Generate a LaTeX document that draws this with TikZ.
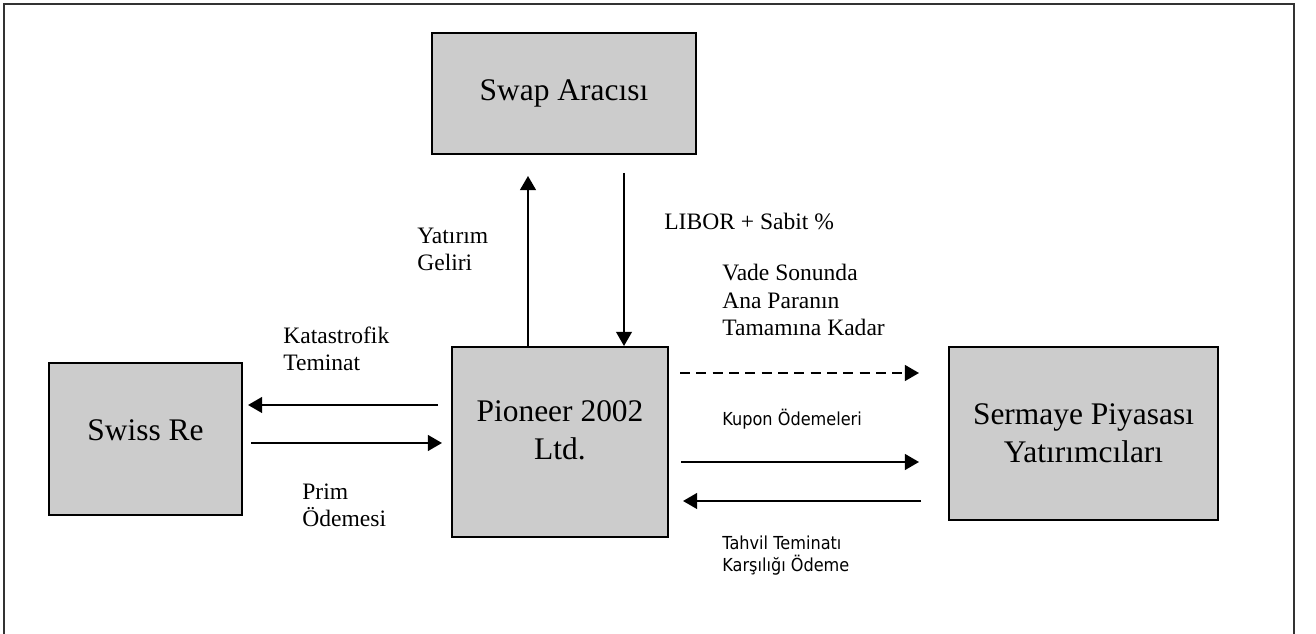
\documentclass[tikz,border=0pt]{standalone}
\usepackage{fontspec}
\setmainfont{Liberation Serif}
\newfontfamily\labelsans[FakeStretch=0.9]{DejaVu Sans}
\usepackage{tikz}
\usetikzlibrary{arrows.meta, positioning}

\begin{document}
\begin{tikzpicture}[x=0.02cm, y=-0.02cm]
	\tikzstyle{box} = [draw=black, line width=1.2pt, fill=black!20, rectangle, align=center, font=\fontsize{17.9}{21.5}\selectfont]
	\tikzstyle{lbl} = [anchor=west, inner sep=0pt, align=left, font=\fontsize{13.4}{15.4}\selectfont]
	\tikzstyle{slbl} = [anchor=west, inner sep=0pt, align=left, font=\labelsans\fontsize{10.2}{12.5}\selectfont]
	\tikzstyle{arrow} = [line width=1pt, -{Triangle[length=8pt, width=9pt]}]
	
	\useasboundingbox (0,0) rectangle (1316,634);
	\draw[line width=1pt, black!80] (4,634) -- (4,4) -- (1294,4) -- (1294,634);
	
	% boxes
	\node[box, minimum width=5.28cm, minimum height=2.42cm]	at (564, 93.5)		(swap)	{Swap Aracısı};
	\node[box, minimum width=4.32cm, minimum height=3.8cm]	at (560, 442)		(pio)	{Pioneer 2002\\Ltd.\rule[-0.48cm]{0pt}{0pt}};
	\node[box, minimum width=3.86cm, minimum height=3.04cm]	at (145.5, 439)		(swiss)	{Swiss Re\rule[-0.36cm]{0pt}{0pt}};
	\node[box, minimum width=5.38cm, minimum height=3.46cm]	at (1083.5, 433.5)	(inv)	{Sermaye Piyasası\\Yatırımcıları};
	
	% labels
	\node[lbl]	at (417, 249)	(gelir)	{Yatırım\\Geliri};
	\node[lbl]	at (664, 221)	(libor)	{LIBOR + Sabit \%};
	\node[lbl]	at (722, 300)	(vade)	{Vade Sonunda\\Ana Paranın\\Tamamına Kadar};
	\node[lbl]	at (283, 349)	(kat)	{Katastrofik\\Teminat};
	\node[lbl]	at (302, 505)	(prim)	{Prim\\Ödemesi};
	\node[slbl]	at (722, 419)	(kupon)	{Kupon Ödemeleri};
	\node[slbl]	at (722, 556)	(tahvil)	{Tahvil Teminatı\\Karşılığı Ödeme};
	
	% free ends of the arrows
	\coordinate (yg) at (528, 176);
	\coordinate (lb) at (624, 173);
	\coordinate (kt) at (438, 405);
	\coordinate (pr) at (251, 443);
	\coordinate (vd) at (680, 373);
	\coordinate (kp) at (681, 462);
	\coordinate (th) at (921, 501);
	
	\draw [arrow] (pio.north -| yg) -- (yg);
	\draw [arrow, line width=0.7pt] (lb) -- (pio.north -| lb);
	\draw [arrow, shorten >=0.1cm] (kt) -- (swiss.east |- kt);
	\draw [arrow, shorten >=0.18cm] (pr) -- (pio.west |- pr);
	\draw [arrow, dash pattern=on 5.7pt off 3.6pt, shorten >=0.58cm] (vd) -- (inv.west |- vd);
	\draw [arrow, shorten >=0.58cm] (kp) -- (inv.west |- kp);
	\draw [arrow, shorten >=0.28cm] (th) -- (pio.east |- th);
\end{tikzpicture}
\end{document}
